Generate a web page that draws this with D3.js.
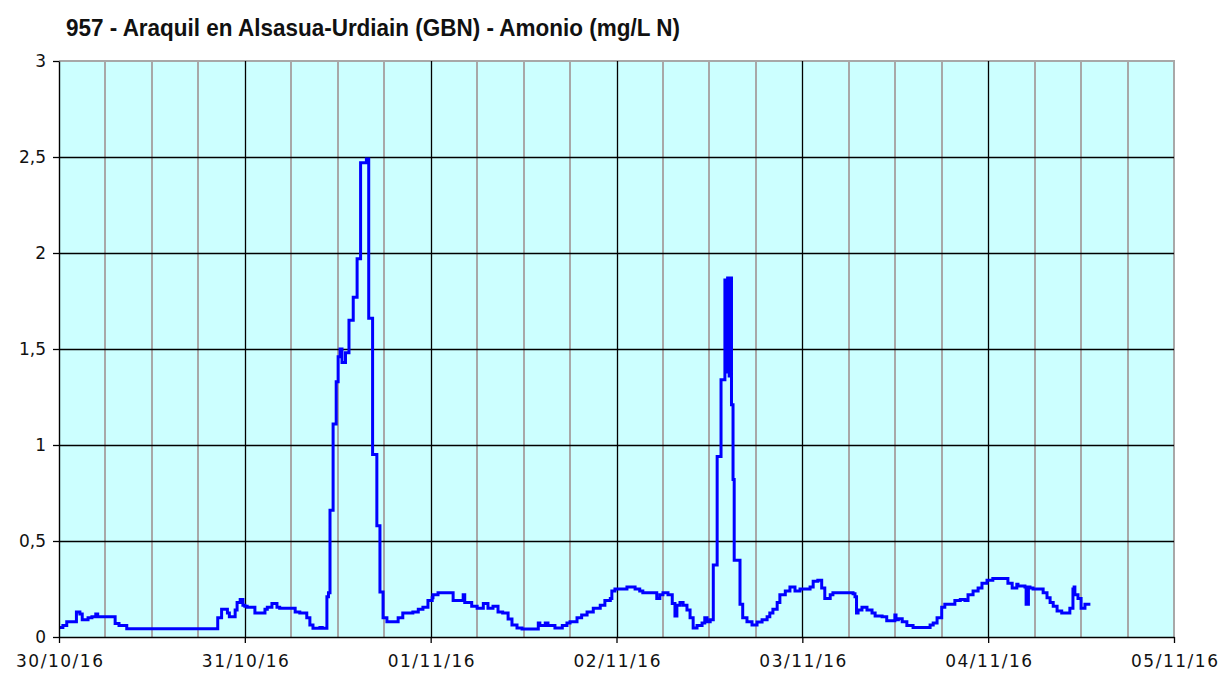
<!DOCTYPE html>
<html>
<head>
<meta charset="utf-8">
<script src="https://cdn.jsdelivr.net/npm/d3@7"></script>
<style>
  body { margin: 0; background: #fff; }
  svg { display: block; }
</style>
</head>
<body>
<div id="chart"></div>
<script>
// 957 - Araquil, amonio, 30/10/16 .. 05/11/16
const title = "957 - Araquil en Alsasua-Urdiain (GBN) - Amonio (mg/L N)";

// hours since 30/10/16 00:00 (step starts)
const hours = [
  0, 0.5, 1.0, 2.25, 2.7, 3.0, 3.75, 4.25, 4.75, 5.0, 7.25, 7.75, 8.75,
  20.5, 21.0, 21.75, 22.0, 22.75, 23.0, 23.4, 23.75, 24.0, 24.3, 25.3, 26.6, 26.9,
  27.5, 28.15, 28.5, 30.5, 31.1, 32.0, 32.4, 32.8, 33.7, 34.0, 34.6, 34.8,
  35.0, 35.4, 35.8, 36.05, 36.3, 36.55, 37.0, 37.45, 38.0, 38.5, 38.95, 39.7,
  40.0, 40.5, 41.05, 41.45, 41.85, 42.35, 43.8, 44.4, 45.7, 46.4, 47.0, 47.65,
  48.2, 48.3, 48.95, 50.9, 52.2, 52.4, 53.3, 54.0, 54.8, 55.4, 56.05, 56.7,
  57.3, 58.0, 58.5, 59.15, 59.8, 61.9, 62.1, 62.8, 63.15, 64.05, 65.0, 65.6,
  66.0, 66.9, 67.5, 68.2, 69.0, 69.9, 70.5, 71.2, 71.4, 71.8, 73.35, 74.4,
  75.0, 75.4, 77.2, 77.6, 78.0, 78.65, 79.2, 79.55, 79.8, 80.2, 80.6, 81.1,
  81.5, 81.9, 82.4, 83.05, 83.4, 83.7, 84.1, 84.5, 85.0, 85.5, 86.0, 86.2,
  86.35, 86.55, 86.7, 86.85, 87.05, 87.2, 87.95, 88.3, 88.85, 89.5, 90.15,
  90.8, 91.45, 91.8, 92.2, 92.75, 93.1, 93.8, 94.4, 95.05, 95.7, 97.0, 97.4,
  98.0, 98.5, 98.9, 99.6, 99.95, 102.55, 102.8, 103.0, 103.2, 103.7, 104.35,
  105.0, 105.4, 106.3, 106.9, 107.95, 108.1, 108.4, 108.9, 109.5, 110.3,
  112.5, 112.9, 113.4, 114.0, 114.4, 115.7, 116.4, 117.0, 117.4, 118.05,
  118.7, 119.2, 119.85, 120.6, 121.3, 122.55, 123.1, 123.7, 123.85, 124.75,
  124.9, 125.2, 125.4, 125.8, 127.1, 127.6, 128.0, 128.4, 128.9, 129.5,
  130.55, 130.95, 131.1, 131.2, 131.6, 132.0, 132.5, 133.2
];
const values = [
  0.05, 0.06, 0.08, 0.13, 0.12, 0.09, 0.10, 0.105, 0.12, 0.105, 0.07, 0.06, 0.043,
  0.10, 0.145, 0.125, 0.105, 0.14, 0.18, 0.195, 0.165, 0.16, 0.155, 0.125, 0.145, 0.155,
  0.175, 0.155, 0.15, 0.13, 0.125, 0.10, 0.063, 0.045, 0.05, 0.045, 0.21, 0.23,
  0.66, 1.11, 1.33, 1.46, 1.5, 1.43, 1.48, 1.65, 1.77, 1.97, 2.47, 2.49,
  1.66, 0.95, 0.58, 0.235, 0.10, 0.08, 0.10, 0.125, 0.13, 0.145, 0.155, 0.19,
  0.205, 0.22, 0.23, 0.19, 0.22, 0.18, 0.16, 0.15, 0.175, 0.15, 0.16, 0.13,
  0.125, 0.094, 0.063, 0.047, 0.042, 0.073, 0.06, 0.073, 0.06, 0.047, 0.06, 0.073,
  0.08, 0.10, 0.115, 0.13, 0.15, 0.165, 0.19, 0.20, 0.24, 0.25, 0.26, 0.25,
  0.24, 0.23, 0.20, 0.22, 0.23, 0.22, 0.175, 0.11, 0.165, 0.18, 0.165, 0.14,
  0.10, 0.047, 0.06, 0.073, 0.10, 0.08, 0.09, 0.375, 0.94, 1.34, 1.86, 1.38,
  1.87, 1.36, 1.87, 1.21, 0.82, 0.40, 0.17, 0.10, 0.08, 0.063, 0.078,
  0.09, 0.105, 0.125, 0.145, 0.18, 0.22, 0.24, 0.26, 0.24, 0.25, 0.26, 0.29,
  0.295, 0.255, 0.20, 0.22, 0.23, 0.225, 0.21, 0.125, 0.14, 0.155, 0.14,
  0.125, 0.11, 0.105, 0.085, 0.115, 0.09, 0.095, 0.08, 0.06, 0.05,
  0.063, 0.073, 0.10, 0.155, 0.17, 0.19, 0.195, 0.19, 0.22, 0.24,
  0.255, 0.28, 0.295, 0.305, 0.305, 0.28, 0.255, 0.275, 0.265, 0.26,
  0.17, 0.26, 0.255, 0.25, 0.23, 0.205, 0.18, 0.16, 0.135, 0.125,
  0.15, 0.25, 0.26, 0.22, 0.20, 0.15, 0.17, 0.17
];
const yTicks = [0, 0.5, 1, 1.5, 2, 2.5, 3];

const width = 1219, height = 675;
const margin = { top: 61, right: 45, bottom: 38, left: 59 };
const t0 = Date.UTC(2016, 9, 30), t1 = Date.UTC(2016, 10, 5);

const data = hours.map((h, i) => ({ date: new Date(t0 + h * 3600e3), value: values[i] }));

const svg = d3.select("#chart").append("svg")
  .attr("width", width)
  .attr("height", height);

const x = d3.scaleUtc()
  .domain([new Date(t0), new Date(t1)])
  .range([margin.left, width - margin.right]);

const y = d3.scaleLinear()
  .domain([0, 3])
  .range([height - margin.bottom, margin.top]);

// plot background
svg.append("rect")
  .attr("x", x.range()[0]).attr("y", y(3))
  .attr("width", x.range()[1] - x.range()[0])
  .attr("height", y(0) - y(3))
  .attr("fill", "#ccffff");

const days = d3.utcDay.range(new Date(t0), new Date(t1 + 1));
const quarters = d3.utcHour.every(6).range(new Date(t0), new Date(t1))
  .filter(d => d.getUTCHours() !== 0);

// minor verticals (6 h)
svg.append("g").selectAll("line").data(quarters).join("line")
  .attr("x1", d => Math.round(x(d))).attr("x2", d => Math.round(x(d)))
  .attr("y1", y(3)).attr("y2", y(0))
  .attr("stroke", "#a8a8a8").attr("stroke-width", 2);

// outer border top/right
svg.append("path")
  .attr("d", `M${x.range()[0]},${y(3)}H${Math.round(x.range()[1])}V${y(0)}`)
  .attr("fill", "none").attr("stroke", "#a8a8a8").attr("stroke-width", 2);

// horizontal grid
svg.append("g").selectAll("line").data(yTicks.filter(v => v > 0 && v < 3)).join("line")
  .attr("x1", x.range()[0]).attr("x2", x.range()[1])
  .attr("y1", d => Math.round(y(d)) + 0.5).attr("y2", d => Math.round(y(d)) + 0.5)
  .attr("stroke", "#000").attr("stroke-width", 1.3);

// day verticals
svg.append("g").selectAll("line").data(days.slice(1, -1)).join("line")
  .attr("x1", d => Math.round(x(d)) + 0.5).attr("x2", d => Math.round(x(d)) + 0.5)
  .attr("y1", y(3)).attr("y2", y(0))
  .attr("stroke", "#000").attr("stroke-width", 1.3);

// series
const line = d3.line()
  .x(d => x(d.date))
  .y(d => y(d.value))
  .curve(d3.curveStepAfter);

svg.append("path")
  .datum(data)
  .attr("d", line)
  .attr("fill", "none")
  .attr("stroke", "#0000ff")
  .attr("stroke-width", 3)
  .attr("stroke-linejoin", "miter");

// axes
const xAxis = svg.append("g")
  .attr("transform", `translate(0,${y(0)})`)
  .call(d3.axisBottom(x).tickValues(days).tickFormat(d3.utcFormat("%d/%m/%y"))
    .tickSize(6).tickSizeOuter(0));
const yAxis = svg.append("g")
  .attr("transform", `translate(${x.range()[0]},0)`)
  .call(d3.axisLeft(y).tickValues(yTicks).tickFormat(d => String(d).replace(".", ","))
    .tickSize(6).tickSizeOuter(0));

[xAxis, yAxis].forEach(g => {
  g.select(".domain").attr("stroke", "#000").attr("stroke-width", 1.4);
  g.selectAll(".tick line").attr("stroke", "#000").attr("stroke-width", 1.3);
  g.selectAll("text")
    .style("font-family", "'DejaVu Sans', Verdana, sans-serif")
    .style("font-size", "17px")
    .attr("fill", "#111");
});
xAxis.selectAll("text").attr("dy", "1.25em").attr("textLength", 87).attr("lengthAdjust", "spacing");
yAxis.selectAll("text").attr("x", -13);

// title
svg.append("text")
  .attr("x", 66).attr("y", 36)
  .attr("textLength", 614).attr("lengthAdjust", "spacingAndGlyphs")
  .style("font-family", "'Liberation Sans Narrow', 'Liberation Sans', Arial, sans-serif")
  .style("font-weight", "bold")
  .style("font-size", "24px")
  .attr("fill", "#111")
  .text(title);
</script>
</body>
</html>
